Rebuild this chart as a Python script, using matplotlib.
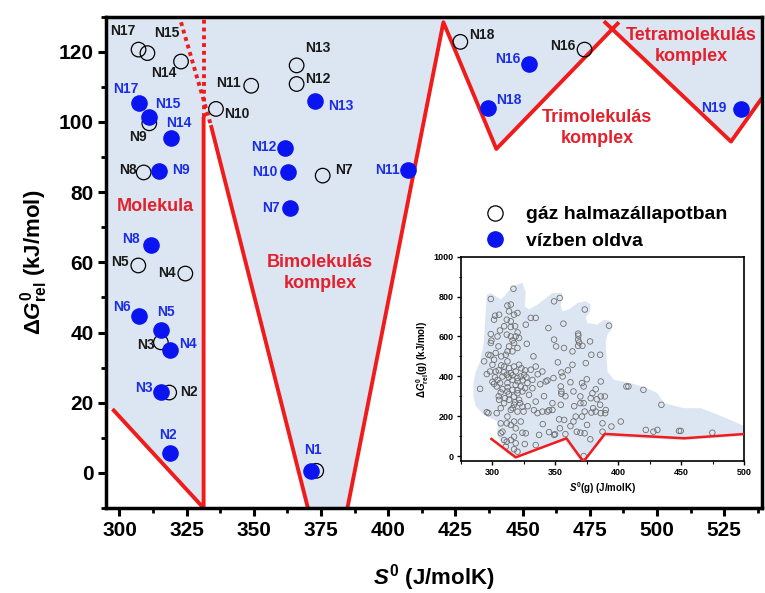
import matplotlib
matplotlib.use("Agg")
import matplotlib.pyplot as plt
from matplotlib.lines import Line2D
from matplotlib.ticker import MultipleLocator

plt.rcParams['font.family'] = ['Liberation Sans', 'DejaVu Sans']
plt.rcParams['font.weight'] = 'bold'
plt.rcParams['mathtext.fontset'] = 'custom'
plt.rcParams['mathtext.rm'] = 'Liberation Sans:bold'
plt.rcParams['mathtext.it'] = 'Liberation Sans:italic:bold'
plt.rcParams['mathtext.bf'] = 'Liberation Sans:bold'

# gas phase structures (open circles)
gas_labels = ['N1', 'N2', 'N3', 'N4', 'N5', 'N7', 'N8', 'N9', 'N10', 'N11',
              'N12', 'N13', 'N14', 'N15', 'N16', 'N17', 'N18']
gas_S = [373.2, 318.5, 315.4, 324.5, 307.0, 375.6, 309.0, 311.1, 335.9, 349.0,
         365.9, 365.9, 322.9, 310.4, 473.0, 307.1, 426.8]
gas_G = [0.6, 22.9, 37.2, 56.8, 59.1, 84.7, 85.6, 99.6, 103.7, 110.3,
         110.8, 116.1, 117.2, 119.6, 120.6, 120.6, 122.8]

# solvated structures (filled circles)
water_labels = ['N1', 'N2', 'N3', 'N4', 'N5', 'N6', 'N7', 'N8', 'N9', 'N10',
                'N11', 'N12', 'N13', 'N14', 'N15', 'N16', 'N17', 'N18', 'N19']
water_S = [371.4, 318.9, 315.4, 318.9, 315.4, 307.3, 363.4, 311.9, 314.8, 362.7,
           407.5, 361.4, 372.9, 319.2, 311.1, 452.2, 307.3, 437.1, 531.2]
water_G = [0.6, 5.8, 23.1, 34.9, 40.6, 44.7, 75.5, 64.9, 86.1, 85.8,
           86.3, 92.7, 106.0, 95.3, 101.5, 116.5, 105.3, 104.1, 103.6]

# region boundaries
mol_S = [297.4, 331.3, 331.3]
mol_G = [18.2, -10.0, 101.5]
mol_dot_S = [331.3, 331.3]
mol_dot_G = [101.5, 130.0]
bi_left_S = [334.0, 370.1]
bi_left_G = [99.1, -10.0]
bi_dot_S = [322.9, 334.0]
bi_dot_G = [128.4, 99.1]
upper_S = [384.8, 420.5, 440.2, 485.8]
upper_G = [-10.0, 128.4, 92.3, 128.4]
tetra_S = [480.2, 527.5, 539.0]
tetra_G = [128.7, 94.4, 106.8]
cross_S, cross_G = 483.3, 126.4

# inset: full gas-phase set
inset_S = [290.2, 298.7, 293.4, 295.5, 296.8, 298.4, 298.7, 298.7, 299.2, 296.8, 295.5, 302.1,
           305.3, 301.3, 304.0, 304.8, 302.6, 301.3, 300.0, 302.6, 298.1, 304.0, 303.4, 301.3,
           306.1, 306.6, 305.3, 306.6, 303.4, 306.6, 308.0, 309.3, 311.4, 310.6, 306.6, 311.9,
           314.6, 313.2, 311.4, 314.6, 314.6, 317.2, 319.9, 318.0, 309.3, 311.4, 314.6, 318.5,
           321.2, 317.2, 313.2, 319.9, 315.9, 310.6, 311.9, 309.3, 313.2, 317.2, 321.2, 318.5,
           314.6, 311.4, 308.0, 315.9, 319.9, 322.5, 325.2, 311.9, 318.5, 322.5, 315.9, 311.9,
           319.9, 323.8, 317.2, 313.2, 321.2, 309.3, 317.2, 323.8, 314.6, 319.9, 324.7, 311.9,
           317.2, 322.5, 311.4, 314.6, 318.5, 323.8, 317.2, 314.6, 318.5, 317.2, 319.9, 316.7,
           326.5, 330.5, 334.4, 327.3, 332.6, 334.4, 330.5, 327.8, 331.8, 331.8, 329.1, 334.4,
           335.8, 326.5, 325.7, 334.4, 337.1, 339.7, 343.7, 342.4, 344.5, 339.7, 343.7, 349.0,
           353.5, 349.0, 350.6, 348.5, 347.7, 347.7, 349.0, 349.8, 356.4, 356.9, 354.8, 355.8,
           354.3, 354.8, 354.8, 354.3, 353.0, 357.0, 353.6, 363.6, 363.6, 364.4, 364.4, 366.2,
           367.0, 368.1, 368.1, 368.1, 368.3, 368.9, 371.5, 373.4, 374.2, 371.2, 372.5, 369.9,
           369.9, 372.5, 373.3, 371.2, 375.2, 369.9, 373.3, 377.8, 372.5, 377.6, 378.6, 382.1,
           379.5, 378.1, 382.1, 386.1, 385.6, 378.7, 385.6, 386.1, 386.1, 389.3, 390.1, 389.6,
           387.5, 387.5, 392.7, 394.6, 402.0, 406.5, 408.1, 420.0, 421.9, 428.0, 431.1, 434.3,
           448.3, 449.7, 474.8, 305.0, 309.0, 313.0, 316.0, 320.0, 324.0, 327.0, 312.0, 308.0,
           305.0, 310.0, 318.0, 322.0, 326.0, 320.0, 313.0, 316.0, 328.0, 333.0, 338.0, 336.0,
           326.0, 323.0, 307.0, 302.0, 300.0, 307.0, 312.0, 316.0, 320.0, 306.0, 341.0, 345.0,
           352.0, 360.0, 362.0, 358.0, 365.0, 375.0, 380.0, 383.0, 362.0, 358.0, 345.0, 340.0]
inset_G = [337, 788, 475, 411, 508, 505, 567, 612, 579, 215, 220, 704,
           709, 684, 600, 550, 517, 483, 458, 424, 424, 382, 349, 362,
           366, 319, 282, 240, 215, 164, 122, 80, 72, 47, 114, 755,
           760, 726, 684, 676, 647, 709, 718, 651, 651, 609, 600, 600,
           592, 567, 550, 542, 525, 508, 475, 449, 441, 449, 458, 424,
           416, 408, 399, 382, 391, 399, 408, 366, 357, 349, 332, 324,
           315, 324, 298, 282, 282, 265, 257, 248, 231, 223, 223, 198,
           173, 173, 164, 156, 139, 117, 97, 80, 64, 34, 22, 839,
           659, 693, 693, 563, 500, 449, 433, 366, 382, 340, 307, 273,
           215, 114, 60, 55, 106, 424, 379, 374, 642, 223, 223, 776,
           793, 584, 550, 391, 265, 231, 106, 109, 664, 542, 419, 399,
           349, 324, 312, 257, 184, 181, 139, 525, 458, 324, 173, 198,
           122, 614, 584, 553, 604, 570, 553, 735, 466, 366, 349, 299,
           265, 265, 223, 198, 156, 117, 114, 84, 0, 575, 508, 335,
           315, 290, 223, 215, 257, 218, 508, 374, 299, 299, 231, 215,
           164, 122, 654, 148, 173, 349, 349, 332, 131, 122, 131, 257,
           126, 126, 117, 430, 420, 395, 405, 375, 380, 395, 345, 335,
           300, 290, 270, 265, 340, 330, 310, 240, 250, 230, 360, 410,
           430, 440, 455, 395, 372, 500, 525, 580, 620, 630, 300, 230,
           470, 430, 370, 300, 250, 385, 240, 285, 150, 110, 120, 160]

blob_S = [284.9, 286.8, 290.0, 293.0, 295.5, 298.7, 306.6, 310.6, 315.9, 323.8, 326.5, 325.7,
          329.1, 335.8, 341.1, 347.7, 355.6, 354.3, 355.6, 360.9, 367.5, 374.2, 378.1, 377.6,
          374.2, 375.5, 383.4, 388.7, 394.0, 394.6, 391.4, 390.1, 391.4, 396.7, 409.9, 423.2,
          431.1, 436.4, 452.3, 465.6, 476.2, 492.1, 500.8, 500.8, 452.0, 390.0, 374.0, 369.0,
          358.0, 340.0, 319.0, 312.0, 304.0, 304.0, 298.7, 293.4, 286.8, 284.9]
blob_G = [366, 424, 470, 560, 810, 818, 785, 810, 852, 869, 818, 751,
          735, 760, 785, 818, 818, 751, 726, 735, 768, 776, 760, 726,
          693, 667, 659, 684, 676, 634, 609, 575, 424, 382, 366, 340,
          315, 265, 240, 240, 215, 173, 148, 100, 80, 95, -20, -20,
          75, 40, -10, 10, 100, 173, 190, 206, 248, 298]

inset_line_S = [299.2, 318.5, 358.8, 372.3, 389.3, 452.3, 500.8]
inset_line_G = [85.5, -6.7, 89.0, -28.6, 110.7, 89.0, 110.7]

# label offsets in pixels
gas_offsets = {'N2': (20, 1), 'N3': (-15, -3), 'N4': (-18, 1), 'N5': (-18, 3),
               'N7': (21, 6), 'N8': (-16, 2), 'N9': (-11, -14), 'N10': (21, -5),
               'N11': (-23, 3), 'N12': (21, 5), 'N13': (21, 17), 'N14': (-17, -11),
               'N15': (19, 20), 'N16': (-22, 4), 'N17': (-16, 19), 'N18': (21, 7)}
water_offsets = {'N1': (2, 21), 'N2': (-2, 18), 'N3': (-17, 4), 'N4': (18, 6),
                 'N5': (5, 18), 'N6': (-17, 9), 'N7': (-19, 0), 'N8': (-21, 6),
                 'N9': (22, 1), 'N10': (-23, 0), 'N11': (-21, 0), 'N12': (-21, 1),
                 'N13': (25, -5), 'N14': (8, 15), 'N15': (19, 13), 'N16': (-21, 5),
                 'N17': (-13, 14), 'N18': (21, 8), 'N19': (-27, 1)}

RED = '#f01c1c'
RED_TXT = '#e3202c'
BLUE = '#0a14f0'
SHADE = '#dce6f2'

fig = plt.figure(figsize=(7.65, 5.93), dpi=100)
ax = fig.add_axes([0.1386, 0.1433, 0.8574, 0.8287])
ax.set_xlim(295, 539)
ax.set_ylim(-10, 130)

# shaded regions above the red boundaries
shade_S = [295, 295] + mol_S + bi_left_S + upper_S[:3] + [cross_S] + tetra_S[1:] + [539]
shade_G = [130, mol_G[0]] + mol_G + bi_left_G + upper_G[:3] + [cross_G] + tetra_G[1:] + [130]
ax.fill(shade_S, shade_G, color=SHADE, lw=0, zorder=0)

line_kw = dict(color=RED, lw=2.8, solid_capstyle='butt', zorder=2)
ax.plot(mol_S, mol_G, **line_kw)
ax.plot(bi_left_S, bi_left_G, **line_kw)
ax.plot(upper_S, upper_G, **line_kw)
ax.plot(tetra_S, tetra_G, **line_kw)
ax.plot(mol_dot_S, mol_dot_G, color=RED, lw=2.8, ls=(0, (1, 1)), zorder=2)
ax.plot(bi_dot_S, bi_dot_G, color=RED, lw=2.8, ls=(0, (1, 1)), zorder=2)

ax.scatter(gas_S, gas_G, s=110, facecolors='none', edgecolors='black', linewidths=0.9, zorder=3)
ax.scatter(water_S, water_G, s=120, color=BLUE, zorder=4)

for lab, x, y in zip(gas_labels, gas_S, gas_G):
    if lab in gas_offsets:
        ax.annotate(lab, (x, y), xytext=gas_offsets[lab], textcoords='offset pixels',
                    ha='center', va='center', fontsize=10, color='#1a1a1a', zorder=5)
for lab, x, y in zip(water_labels, water_S, water_G):
    ax.annotate(lab, (x, y), xytext=water_offsets[lab], textcoords='offset pixels',
                ha='center', va='center', fontsize=10, color='#1a2ee8', zorder=5)

reg_kw = dict(color=RED_TXT, fontsize=13, ha='center', va='center', linespacing=1.3)
ax.text(313.5, 75.8, 'Molekula', **reg_kw)
ax.text(374.7, 57.0, 'Bimolekulás\nkomplex', **reg_kw)
ax.text(477.7, 98.2, 'Trimolekulás\nkomplex', **reg_kw)
ax.text(512.8, 121.6, 'Tetramolekulás\nkomplex', **reg_kw)

ax.xaxis.set_minor_locator(MultipleLocator(12.5))
ax.yaxis.set_minor_locator(MultipleLocator(10))
ax.set_xticks(range(300, 526, 25))
ax.set_yticks(range(0, 121, 20))
ax.tick_params(which='major', direction='out', length=6, width=2.2, labelsize=15, pad=3)
ax.tick_params(which='minor', direction='out', length=3.5, width=2.0)
for sp in ax.spines.values():
    sp.set_linewidth(2.5)

ax.set_xlabel(r'$S^{0}$ (J/molK)', fontsize=16, fontweight='bold', labelpad=16)
ax.set_ylabel(r'$\Delta G^{0}_{\rm rel}$ (kJ/mol)', fontsize=16, fontweight='bold', labelpad=6)

handles = [Line2D([], [], ls='none', marker='o', ms=11, mfc='none', mec='black', mew=0.9),
           Line2D([], [], ls='none', marker='o', ms=11, mfc=BLUE, mec=BLUE)]
ax.legend(handles, ['gáz halmazállapotban', 'vízben oldva'], loc='upper left',
          bbox_to_anchor=(0.634, 0.653), bbox_transform=fig.transFigure,
          frameon=False, fontsize=14, handlelength=1.0, handletextpad=1.1,
          borderpad=0, borderaxespad=0, labelspacing=0.45)

# inset with the whole gas-phase data set
ins = fig.add_axes([0.6026, 0.2226, 0.370, 0.3445])
ins.set_xlim(275, 500)
ins.set_ylim(-25, 1000)
ins.fill(blob_S, blob_G, color=SHADE, lw=0, zorder=0)
ins.scatter(inset_S, inset_G, s=16, facecolors='none', edgecolors='#6e6e6e', linewidths=0.6, zorder=2)
ins.plot(inset_line_S, inset_line_G, color=RED, lw=1.8, zorder=3)
ins.xaxis.set_major_locator(MultipleLocator(50))
ins.xaxis.set_minor_locator(MultipleLocator(25))
ins.yaxis.set_major_locator(MultipleLocator(200))
ins.yaxis.set_minor_locator(MultipleLocator(100))
ins.tick_params(which='major', direction='out', length=3, width=1, labelsize=6.5, pad=2)
ins.tick_params(which='minor', direction='out', length=1.8, width=0.8)
for sp in ins.spines.values():
    sp.set_linewidth(1.2)
ins.set_xlabel(r'$S^{0}$(g) (J/molK)', fontsize=7, fontweight='bold', labelpad=2)
ins.set_ylabel(r'$\Delta G^{0}_{\rm rel}$(g) (kJ/mol)', fontsize=7, fontweight='bold', labelpad=2)

fig.savefig('out.png', dpi=100)
